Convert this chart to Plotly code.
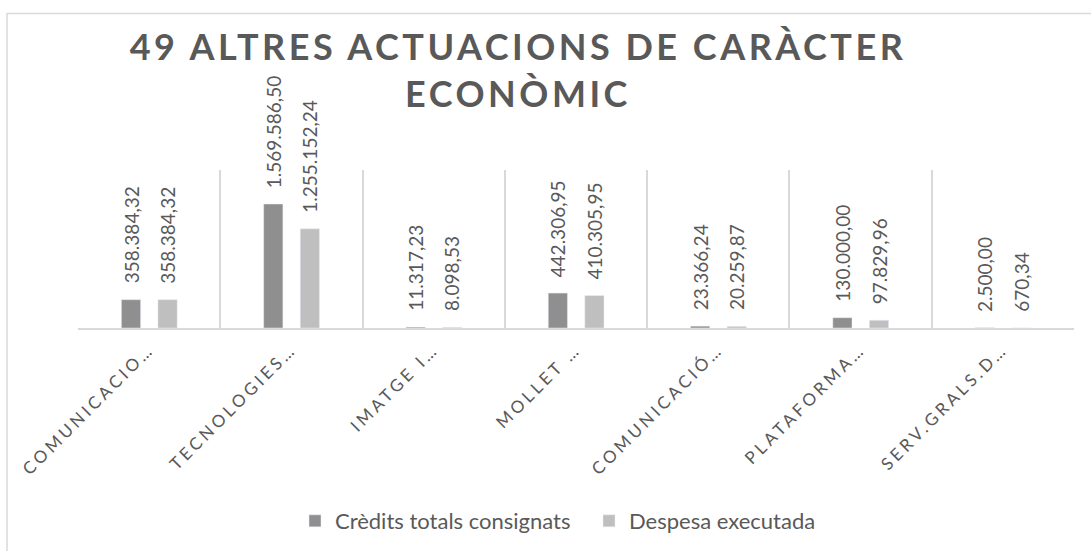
import plotly.graph_objects as go

categories = ["COMUNICACIO…", "TECNOLOGIES…", "IMATGE I…", "MOLLET …",
              "COMUNICACIÓ…", "PLATAFORMA…", "SERV.GRALS.D…"]
credits = [358384.32, 1569586.50, 11317.23, 442306.95, 23366.24, 130000.00, 2500.00]
despesa = [358384.32, 1255152.24, 8098.53, 410305.95, 20259.87, 97829.96, 670.34]
series_names = ["Crèdits totals consignats", "Despesa executada"]
title_text = "49 ALTRES ACTUACIONS DE CARÀCTER<br>ECONÒMIC"

COL_DARK = "#8f8f8f"
COL_LIGHT = "#bfbfbf"
TXT = "#595959"
FONT = "Lato"

W = 0.135
OFFS = [-0.195, 0.062]


def fmt(v):
    s = f"{v:,.2f}"
    return s.replace(",", "X").replace(".", ",").replace("X", ".")


fig = go.Figure()
for vals, name, col, off in [(credits, series_names[0], COL_DARK, OFFS[0]),
                             (despesa, series_names[1], COL_LIGHT, OFFS[1])]:
    fig.add_trace(go.Bar(x=categories, y=vals, name=name, marker_color=col,
                         width=W, offset=off, hoverinfo="x+y"))

annotations = []
for vals, off in [(credits, OFFS[0]), (despesa, OFFS[1])]:
    for i, v in enumerate(vals):
        annotations.append(dict(x=i + off + W / 2, y=v, xref="x", yref="y",
                                text=fmt(v), textangle=-90, showarrow=False,
                                xanchor="center", yanchor="bottom", yshift=14,
                                font=dict(family=FONT, size=19, color=TXT)))

fig.update_layout(
    width=1091, height=551,
    margin=dict(l=78, r=17, t=170, b=222),
    paper_bgcolor="white", plot_bgcolor="white",
    barmode="overlay",
    separators=",.",
    showlegend=True,
    title=dict(text=title_text, x=(518 - 78) / 996, xref="paper", xanchor="center",
               y=1 - 60 / 551, yref="container", yanchor="middle",
               font=dict(family=FONT, size=36, color=TXT, weight="bold")),
    legend=dict(orientation="h", x=(295 - 78) / 996, xanchor="left",
                y=(329 - 521) / 159, yanchor="middle",
                font=dict(family=FONT, size=22, color=TXT), itemwidth=30,
                entrywidth=249, entrywidthmode="pixels"),
    annotations=annotations,
    xaxis=dict(type="category", range=[-0.5, 6.5], tickson="boundaries",
               showgrid=True, gridcolor="#d9d9d9", gridwidth=1.5,
               showline=True, linecolor="#d9d9d9", linewidth=1.5,
               ticks="", tickangle=-45, ticklabelstandoff=3,
               tickfont=dict(family=FONT, size=17, color=TXT),
               fixedrange=True),
    yaxis=dict(range=[0, 2000000], showgrid=False, zeroline=False,
               showticklabels=False, showline=False, fixedrange=True),
    shapes=[dict(type="rect", xref="paper", yref="paper",
                 x0=(7 - 78) / 996, x1=1.2, y0=-3, y1=1 + (170 - 12.5) / 159,
                 line=dict(color="#d9d9d9", width=1.5), fillcolor="rgba(0,0,0,0)",
                 layer="below")],
)

post = """
document.body.style.margin = '0';
document.body.style.padding = '0';
var gd = document.getElementById('{plot_id}');
function applyLS(){
  gd.querySelectorAll('.gtitle').forEach(function(e){ e.setAttribute('letter-spacing','3.5px'); });
  gd.querySelectorAll('.xtick text').forEach(function(e){ e.setAttribute('letter-spacing','3.5px'); });
}
applyLS();
gd.on('plotly_afterplot', applyLS);
"""

fig.write_html("out.html", post_script=post, config={"displayModeBar": False})
